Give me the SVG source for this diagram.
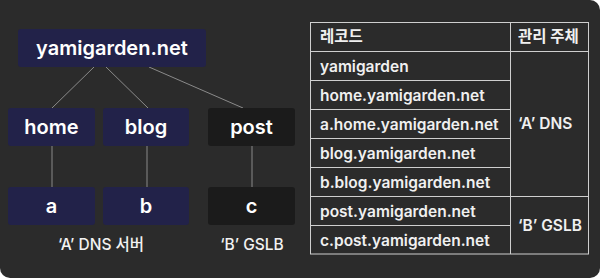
<svg xmlns="http://www.w3.org/2000/svg" width="600" height="278" viewBox="0 0 600 278">
<style>
.bg{fill:#2b2b2b}
.navy{fill:#222249}
.dark{fill:#1b1b1b}
.nt{font-family:Inter,"Noto Sans CJK KR",sans-serif;font-weight:600;font-size:20px;fill:#ffffff;text-anchor:middle}
.lbl{font-family:Inter,"Noto Sans CJK KR",sans-serif;font-weight:500;font-size:15.5px;fill:#f2f2f2;text-anchor:middle}
.tt{font-family:Inter,"Noto Sans CJK KR",sans-serif;font-weight:600;font-size:15.5px;fill:#f0f0f0}
.th{font-family:Inter,"Noto Sans CJK KR",sans-serif;font-weight:700;font-size:15.5px;fill:#f0f0f0}
.edge{stroke:#8a8a8a;stroke-width:1;fill:none}
.grid{stroke:#cfcfcf;stroke-width:1;fill:none}
</style>
<path class="bg" d="M0,0 H590 A10,10 0 0 1 600,10 V268 A10,10 0 0 1 590,278 H10 A10,10 0 0 1 0,268 Z"/>
<g id="connectors">
<line class="edge" x1="94" y1="67" x2="52" y2="108"/>
<line class="edge" x1="106" y1="67" x2="148" y2="108"/>
<line class="edge" x1="149" y1="67" x2="243" y2="108"/>
<line class="edge" x1="52" y1="146" x2="52" y2="187"/>
<line class="edge" x1="147" y1="146" x2="147" y2="187"/>
<line class="edge" x1="252" y1="146" x2="252" y2="187"/>
</g>
<g id="root"><rect class="navy" x="18" y="29" width="188" height="38" rx="3"/><text class="nt" x="112" y="55">yamigarden.net</text></g>
<g id="home"><rect class="navy" x="8" y="108" width="87" height="38" rx="3"/><text class="nt" x="51.5" y="134">home</text></g>
<g id="blog"><rect class="navy" x="103" y="108" width="86" height="38" rx="3"/><text class="nt" x="146" y="134">blog</text></g>
<g id="post"><rect class="dark" x="208" y="108" width="87" height="38" rx="3"/><text class="nt" x="251.5" y="134">post</text></g>
<g id="a"><rect class="navy" x="8" y="187" width="87" height="38" rx="3"/><text class="nt" x="51.5" y="213">a</text></g>
<g id="b"><rect class="navy" x="103" y="187" width="86" height="38" rx="3"/><text class="nt" x="146" y="213">b</text></g>
<g id="c"><rect class="dark" x="208" y="187" width="87" height="38" rx="3"/><text class="nt" x="251.5" y="213">c</text></g>
<g id="labels">
<text class="lbl" x="101" y="250">‘A’ DNS 서버</text>
<text class="lbl" x="252" y="250">‘B’ GSLB</text>
</g>
<g id="table">
<rect class="grid" x="310.5" y="22.5" width="278" height="231.5"/>
<line class="grid" x1="510.5" y1="22.5" x2="510.5" y2="254"/>
<line class="grid" x1="310.5" y1="51.5" x2="588.5" y2="51.5"/>
<line class="grid" x1="310.5" y1="80.5" x2="510.5" y2="80.5"/>
<line class="grid" x1="310.5" y1="109.5" x2="510.5" y2="109.5"/>
<line class="grid" x1="310.5" y1="138.5" x2="510.5" y2="138.5"/>
<line class="grid" x1="310.5" y1="167.5" x2="510.5" y2="167.5"/>
<line class="grid" x1="310.5" y1="196.5" x2="588.5" y2="196.5"/>
<line class="grid" x1="310.5" y1="225.5" x2="510.5" y2="225.5"/>
<text class="th" x="320" y="42">레코드</text>
<text class="th" x="518" y="42">관리 주체</text>
<text class="tt" x="320" y="72">yamigarden</text>
<text class="tt" x="320" y="101">home.yamigarden.net</text>
<text class="tt" x="320" y="130">a.home.yamigarden.net</text>
<text class="tt" x="320" y="159">blog.yamigarden.net</text>
<text class="tt" x="320" y="188">b.blog.yamigarden.net</text>
<text class="tt" x="320" y="217">post.yamigarden.net</text>
<text class="tt" x="320" y="246">c.post.yamigarden.net</text>
<text class="tt" x="518" y="129">‘A’ DNS</text>
<text class="tt" x="518" y="231">‘B’ GSLB</text>
</g>
</svg>
